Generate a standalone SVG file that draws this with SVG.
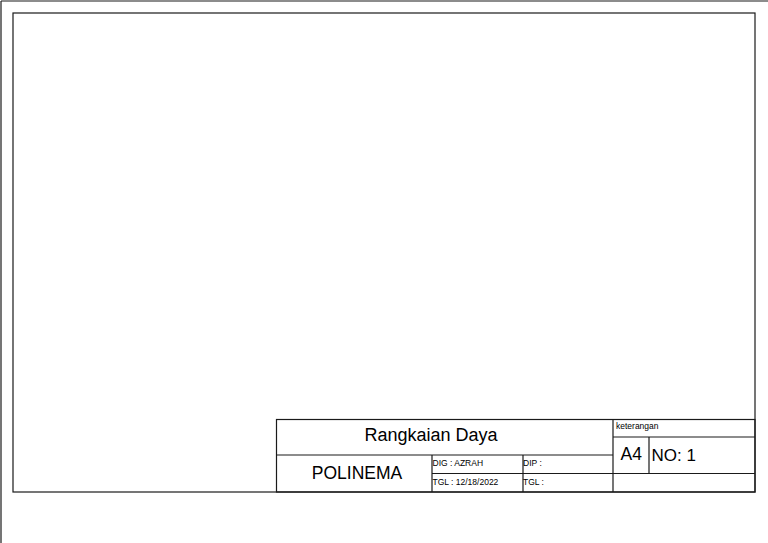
<svg xmlns="http://www.w3.org/2000/svg" width="768" height="543" viewBox="0 0 768 543">
<style>
.ln{stroke:#1a1a1a;stroke-width:1.2;fill:none}
.t{font-family:"Liberation Sans",Arial,sans-serif;fill:#000}
.big{font-size:17.5px}
.sm{font-size:8.5px}
</style>
<rect width="768" height="543" fill="#fff"/>
<g id="sheet">
<line class="ln" x1="1" y1="1" x2="768" y2="1"/>
<line class="ln" x1="1" y1="1" x2="1" y2="543"/>
<rect class="ln" x="13" y="13" width="742" height="479"/>
</g>
<g id="titleblock">
<rect class="ln" x="276.5" y="419.5" width="478.5" height="72.5"/>
<line class="ln" x1="276.5" y1="455" x2="613" y2="455"/>
<line class="ln" x1="432" y1="455" x2="432" y2="492"/>
<line class="ln" x1="432" y1="473.5" x2="613" y2="473.5"/>
<line class="ln" x1="523" y1="455" x2="523" y2="492"/>
<line class="ln" x1="613" y1="419.5" x2="613" y2="492"/>
<line class="ln" x1="613" y1="437" x2="755" y2="437"/>
<line class="ln" x1="613" y1="473.5" x2="755" y2="473.5"/>
<line class="ln" x1="649" y1="437" x2="649" y2="473.5"/>
</g>
<g id="texts">
<text class="t" x="431" y="441" font-size="18" text-anchor="middle">Rangkaian Daya</text>
<text class="t big" x="357" y="478.5" text-anchor="middle">POLINEMA</text>
<text class="t sm" x="432.5" y="466">DIG : AZRAH</text>
<text class="t sm" x="432.5" y="485">TGL : 12/18/2022</text>
<text class="t sm" x="523" y="466">DIP :</text>
<text class="t sm" x="523" y="485">TGL :</text>
<text class="t sm" x="616" y="428.5">keterangan</text>
<text class="t" x="620.5" y="460" font-size="17.5">A4</text>
<text class="t" x="651.5" y="461" font-size="17">NO: 1</text>
</g>
</svg>
